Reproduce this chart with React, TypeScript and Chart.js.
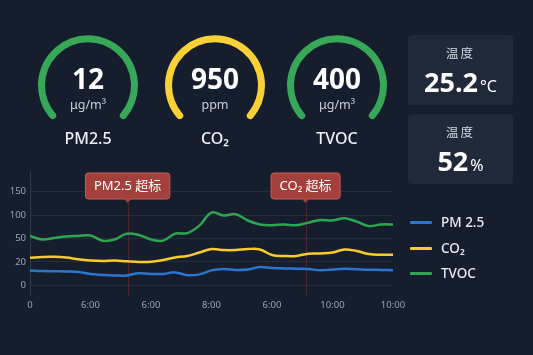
import React, { useEffect, useRef } from "react";
import { Chart, registerables } from "chart.js";

Chart.register(...registerables);

// ---------- data ----------
const timeLabels = ["0", "6:00", "6:00", "8:00", "6:00", "10:00", "10:00"];
const yTickLabels = [0, 20, 50, 100, 150];
const seriesNames = ["PM 2.5", "CO₂", "TVOC"];
const seriesColors = ["#2a76cc", "#f5cd2b", "#2fa552"];

const pm25 = [12.8, 12.3, 12.1, 11.9, 11.4, 9.8, 8.9, 8.5, 8.5, 10.4, 9.8, 9.8, 11.1, 8.7, 9.4, 12.8,
  14.0, 13.2, 13.6, 15.7, 14.9, 14.5, 14.2, 14.0, 12.9, 13.6, 14.2, 13.8, 13.4, 13.2, 13.0];
const co2 = [25.4, 26.4, 26.6, 25.7, 23.4, 21.9, 21.3, 21.9, 20.9, 20.0, 20.3, 22.6, 25.7, 27.7, 32.1, 36.6,
  35.3, 35.3, 36.6, 36.0, 28.9, 27.7, 27.7, 30.6, 30.9, 32.1, 36.0, 34.0, 30.2, 29.2, 29.2];
const tvoc = [55.5, 48.8, 51, 54.5, 55.5, 56.5, 47.3, 48.8, 60.5, 57.5, 48.8, 47.3, 60.5, 61.5, 77.5, 105.5,
  99, 102, 88.5, 80, 78.5, 80, 78.5, 84, 89.5, 88.5, 93.5, 86, 76.5, 80, 80];
const sampleStep = 0.2; // hours-axis units between samples

const alertTimes = [1.614, 4.555];
const alertLabels = ["PM2.5 超标", "CO₂ 超标"];

const gaugeValues = [12, 950, 400];
const gaugeUnits = ["μg/m³", "ppm", "μg/m³"];
const gaugeNames = ["PM2.5", "CO₂", "TVOC"];
const gaugeColors = ["#37a858", "#f7d136", "#37a858"];

const cardTitles = ["温度", "温度"];
const cardValues = ["25.2", "52"];
const cardUnits = ["°C", "%"];

// ---------- helpers ----------
const FONT = '"Noto Sans", "Noto Sans CJK SC", sans-serif';

function toIdx(v: number): number {
  for (let i = 0; i < yTickLabels.length - 1; i++) {
    const a = yTickLabels[i], b = yTickLabels[i + 1];
    if (v <= b || i === yTickLabels.length - 2) return i + (v - a) / (b - a);
  }
  return 0;
}

const alertPlugin = {
  id: "alerts",
  beforeDatasetsDraw(chart: any) {
    const { ctx, scales, chartArea } = chart;
    ctx.save();
    ctx.strokeStyle = "rgba(170,60,70,0.35)";
    ctx.lineWidth = 1;
    alertTimes.forEach((t) => {
      const x = Math.round(scales.x.getPixelForValue(t)) + 0.5;
      ctx.beginPath();
      ctx.moveTo(x, chartArea.top + 31);
      ctx.lineTo(x, chartArea.bottom);
      ctx.stroke();
    });
    ctx.restore();
  },
  afterDatasetsDraw(chart: any) {
    const { ctx, scales, chartArea } = chart;
    ctx.save();
    ctx.font = `13px ${FONT}`;
    alertTimes.forEach((t, i) => {
      const cx = scales.x.getPixelForValue(t);
      const tw = ctx.measureText(alertLabels[i]).width;
      const w = tw + 17;
      const h = 26;
      const x0 = cx - w / 2;
      const y0 = chartArea.top + 1;
      ctx.beginPath();
      ctx.roundRect(x0, y0, w, h, 3);
      ctx.fillStyle = "#a3403c";
      ctx.fill();
      ctx.strokeStyle = "#c45c56";
      ctx.lineWidth = 1;
      ctx.stroke();
      // pointer
      ctx.beginPath();
      ctx.moveTo(cx - 4, y0 + h - 0.5);
      ctx.lineTo(cx, y0 + h + 4);
      ctx.lineTo(cx + 4, y0 + h - 0.5);
      ctx.closePath();
      ctx.fillStyle = "#a3403c";
      ctx.fill();
      ctx.fillStyle = "#ffffff";
      ctx.textAlign = "center";
      ctx.textBaseline = "middle";
      ctx.fillText(alertLabels[i], cx, y0 + h / 2 + 0.5);
    });
    ctx.restore();
  },
};

function LineChart() {
  const ref = useRef<HTMLCanvasElement>(null);
  useEffect(() => {
    const series = [pm25, co2, tvoc];
    const chart = new Chart(ref.current!, {
      type: "line",
      data: {
        datasets: series.map((s, k) => ({
          label: seriesNames[k],
          data: s.map((v, i) => ({ x: i * sampleStep, y: toIdx(v) })),
          borderColor: seriesColors[k],
          borderWidth: 2.5,
          pointRadius: 0,
          tension: 0.4,
          fill: false,
        })),
      },
      options: {
        animation: false,
        responsive: false,
        layout: { padding: { left: 0, right: 27, top: 12, bottom: 5 } },
        plugins: { legend: { display: false }, tooltip: { enabled: false } },
        scales: {
          x: {
            type: "linear",
            min: 0,
            max: 6,
            afterBuildTicks: (s: any) => {
              s.ticks = timeLabels.map((_, i) => ({ value: i }));
            },
            afterFit: (s: any) => {
              s.height = 20;
            },
            grid: { display: false, drawTicks: false },
            border: { display: false },
            ticks: {
              color: "#9aa3b1",
              font: { size: 9.5, family: FONT },
              padding: 5,
              maxRotation: 0,
              autoSkip: false,
              callback: (v: any) => timeLabels[Math.round(v)],
            },
          },
          y: {
            type: "linear",
            min: -0.41,
            max: 4.84,
            afterBuildTicks: (s: any) => {
              s.ticks = yTickLabels.map((_, i) => ({ value: i }));
            },
            afterFit: (s: any) => {
              s.width = 30;
            },
            grid: { color: "rgba(255,255,255,0.07)", drawTicks: false },
            border: { display: true, color: "rgba(255,255,255,0.13)" },
            ticks: {
              color: "#9aa3b1",
              font: { size: 9.5, family: FONT },
              padding: 4,
              callback: (v: any) => String(yTickLabels[Math.round(v)]),
            },
          },
        },
      },
      plugins: [alertPlugin],
    });
    return () => chart.destroy();
  }, []);
  return (
    <canvas
      ref={ref}
      width={420}
      height={160}
      style={{ position: "absolute", left: 0, top: 160, width: 420, height: 160 }}
    />
  );
}

function Gauge({ idx, cx, cy }: { idx: number; cx: number; cy: number }) {
  const ref = useRef<HTMLCanvasElement>(null);
  useEffect(() => {
    const chart = new Chart(ref.current!, {
      type: "doughnut",
      data: {
        labels: [gaugeNames[idx]],
        datasets: [
          {
            data: [gaugeValues[idx]],
            backgroundColor: [gaugeColors[idx]],
            borderWidth: 0,
            borderRadius: 4,
          },
        ],
      },
      options: {
        animation: false,
        responsive: false,
        rotation: -135,
        circumference: 270,
        radius: 50,
        cutout: "86%",
        layout: { padding: 0 },
        plugins: { legend: { display: false }, tooltip: { enabled: false } },
      },
    });
    return () => chart.destroy();
  }, [idx]);
  const size = 120;
  return (
    <>
      <canvas
        ref={ref}
        width={size}
        height={size}
        style={{ position: "absolute", left: cx - 60, top: cy - 67.3, width: size, height: size }}
      />
      <div
        style={{
          position: "absolute", left: cx - 60, width: 120, top: cy - 21, textAlign: "center",
          color: "#ffffff", fontSize: 28, fontWeight: 700, lineHeight: "28px", fontFamily: FONT,
        }}
      >
        {gaugeValues[idx]}
      </div>
      <div
        style={{
          position: "absolute", left: cx - 60, width: 120, top: cy + 12, textAlign: "center",
          color: "#c9ced7", fontSize: 12.5, lineHeight: "16px", fontFamily: FONT,
        }}
      >
        {gaugeUnits[idx]}
      </div>
      <div
        style={{
          position: "absolute", left: cx - 60, width: 120, top: cy + 43, textAlign: "center",
          color: "#eef1f5", fontSize: 16, fontWeight: 500, lineHeight: "20px", fontFamily: FONT,
        }}
      >
        {gaugeNames[idx]}
      </div>
    </>
  );
}

function Card({ idx, top }: { idx: number; top: number }) {
  return (
    <div
      style={{
        position: "absolute", left: 408, top, width: 105, height: 70, background: "#1f293a",
        borderRadius: 4, fontFamily: FONT, textAlign: "center",
      }}
    >
      <div style={{ position: "absolute", left: 0, right: 0, top: 11, color: "#d2d6de", fontSize: 12.5, lineHeight: "16px", letterSpacing: 2 }}>
        {cardTitles[idx]}
      </div>
      <div style={{ position: "absolute", left: 0, right: 0, top: 29, color: "#ffffff", lineHeight: "36px", whiteSpace: "nowrap" }}>
        <span style={{ fontSize: 27, fontWeight: 700 }}>{cardValues[idx]}</span>
        <span style={{ fontSize: 16, marginLeft: 2 }}>{cardUnits[idx]}</span>
      </div>
    </div>
  );
}

function Legend() {
  const ys = [222, 248, 273];
  return (
    <>
      {seriesNames.map((n, i) => (
        <React.Fragment key={n}>
          <div style={{ position: "absolute", left: 410, top: ys[i] - 1.5, width: 22, height: 3, background: seriesColors[i], borderRadius: 1 }} />
          <div style={{ position: "absolute", left: 441, top: ys[i] - 9, lineHeight: "18px", fontSize: 13.5, color: "#e8ebf0", fontWeight: 500, fontFamily: FONT }}>
            {n}
          </div>
        </React.Fragment>
      ))}
    </>
  );
}

export default function App() {
  return (
    <div style={{ position: "fixed", left: 0, top: 0, width: 533, height: 355, background: "#161e2d", overflow: "hidden" }}>
      <Gauge idx={0} cx={88} cy={85} />
      <Gauge idx={1} cx={215} cy={85} />
      <Gauge idx={2} cx={337} cy={85} />
      <Card idx={0} top={35} />
      <Card idx={1} top={114} />
      <LineChart />
      <Legend />
    </div>
  );
}
